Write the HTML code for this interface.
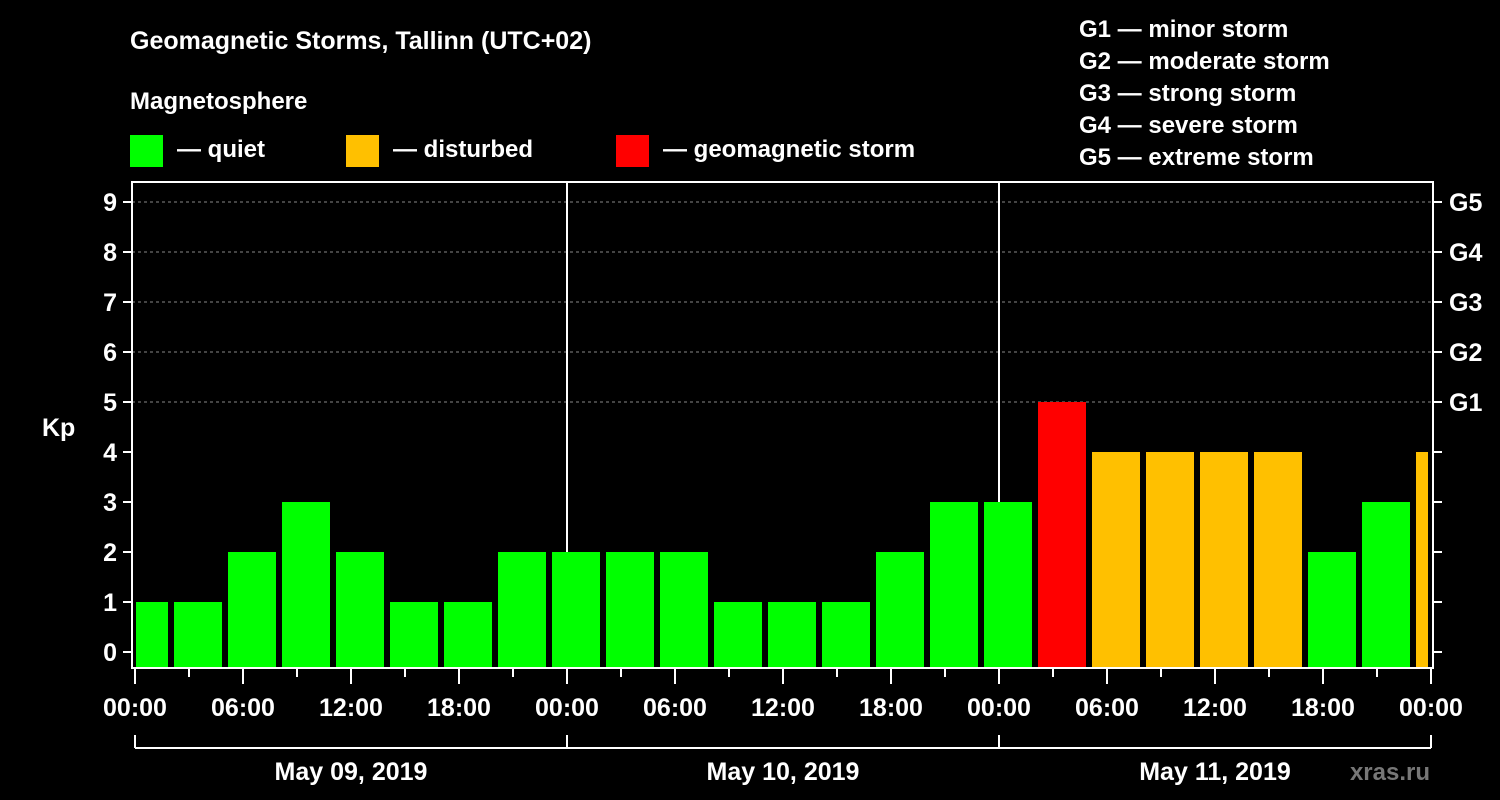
<!DOCTYPE html>
<html><head><meta charset="utf-8"><style>
html,body{margin:0;padding:0;background:#000;}
svg{display:block;font-family:"Liberation Sans",Arial,sans-serif;font-weight:bold;}
</style></head><body>
<svg id="chart" width="1500" height="800" viewBox="0 0 1500 800">
<rect width="1500" height="800" fill="#000"/>
<text x="130" y="49" fill="#fff" font-size="25">Geomagnetic Storms, Tallinn (UTC+02)</text>
<text x="130" y="109" fill="#fff" font-size="24">Magnetosphere</text>
<g><rect x="130" y="135" width="33" height="32" fill="#00ff00"/><text x="177" y="157" fill="#fff" font-size="24">— quiet</text></g>
<g><rect x="346" y="135" width="33" height="32" fill="#ffc000"/><text x="393" y="157" fill="#fff" font-size="24">— disturbed</text></g>
<g><rect x="616" y="135" width="33" height="32" fill="#ff0000"/><text x="663" y="157" fill="#fff" font-size="24">— geomagnetic storm</text></g>
<g fill="#fff" font-size="24">
<text x="1079" y="37">G1 — minor storm</text>
<text x="1079" y="69">G2 — moderate storm</text>
<text x="1079" y="101">G3 — strong storm</text>
<text x="1079" y="133">G4 — severe storm</text>
<text x="1079" y="165">G5 — extreme storm</text>
</g>
<text x="42" y="436" fill="#fff" font-size="25">Kp</text>
<text x="1430" y="780" fill="#888" font-size="24" text-anchor="end" font-weight="normal" style="font-weight:bold;fill:#777">xras.ru</text>
<g id="grid"></g><g id="bars"></g><g id="axes"></g>
</svg>
<script>
const kpValues=[1,1,2,3,2,1,1,2,2,2,2,1,1,1,2,3,3,5,4,4,4,4,2,3,4];
const yTicks=[0,1,2,3,4,5,6,7,8,9];
const gLabels=["G1","G2","G3","G4","G5"];
const dayLabels=["May 09, 2019","May 10, 2019","May 11, 2019"];
const timeLabels=["00:00","06:00","12:00","18:00"];
const NS="http://www.w3.org/2000/svg";
const L=132,R=1433,T=182,B=668,X0=135,PXH=18;
const y=v=>652-50*v;
const x=h=>X0+h*PXH;
function mk(tag,attrs,parent){const e=document.createElementNS(NS,tag);for(const k in attrs)e.setAttribute(k,attrs[k]);parent.appendChild(e);return e;}
const grid=document.getElementById('grid'),bars=document.getElementById('bars'),axes=document.getElementById('axes');
// grid lines
yTicks.forEach(v=>{if(v>=5){const ln=mk('line',{x1:L,x2:R,y1:y(v),y2:y(v),stroke:'#888','stroke-dasharray':'3,3','stroke-width':1},grid);

}});
// day separators
[1,2].forEach(d=>{const ln=mk('line',{x1:x(24*d),x2:x(24*d),y1:T,y2:B,stroke:'#fff','stroke-width':2},grid);

});
// bars
kpValues.forEach((v,i)=>{let h0=-1+3*i,h1=h0+3;let x0=x(h0)+3,x1=x(h1)-3;x0=Math.max(x0,x(0)+1);x1=Math.min(x1,x(72)-3);
const col=v>=5?'#ff0000':(v>=4?'#ffc000':'#00ff00');
const r=mk('rect',{x:x0,y:y(v),width:x1-x0,height:B-1-y(v),fill:col},bars);

});
// frame
const fr=mk('rect',{x:L,y:T,width:R-L,height:B-T,fill:'none',stroke:'#fff','stroke-width':2},axes);


// y ticks
yTicks.forEach(v=>{mk('line',{x1:L-9,x2:L,y1:y(v),y2:y(v),stroke:'#fff','stroke-width':2},axes);
mk('line',{x1:R,x2:R+9,y1:y(v),y2:y(v),stroke:'#fff','stroke-width':2},axes);
const t=mk('text',{x:117,y:y(v)+9,fill:'#fff','font-size':25,'text-anchor':'end'},axes);t.textContent=v;

});
gLabels.forEach((g,i)=>{const t=mk('text',{x:1449,y:y(5+i)+9,fill:'#fff','font-size':25},axes);t.textContent=g;

});
// x ticks
for(let h=0;h<=72;h+=3){const major=h%6===0;mk('line',{x1:x(h),x2:x(h),y1:B,y2:B+(major?16:9),stroke:'#fff','stroke-width':2},axes);}
for(let h=0;h<=72;h+=6){const t=mk('text',{x:x(h),y:716,fill:'#fff','font-size':25,'text-anchor':'middle'},axes);t.textContent=timeLabels[(h/6)%4];

}
// date bracket
mk('line',{x1:x(0),x2:x(72),y1:748,y2:748,stroke:'#fff','stroke-width':2},axes);
for(let d=0;d<=3;d++)mk('line',{x1:x(24*d),x2:x(24*d),y1:735,y2:748,stroke:'#fff','stroke-width':2},axes);
dayLabels.forEach((d,i)=>{const t=mk('text',{x:x(24*i+12),y:780,fill:'#fff','font-size':25,'text-anchor':'middle'},axes);t.textContent=d;

});
</script>
</body></html>
